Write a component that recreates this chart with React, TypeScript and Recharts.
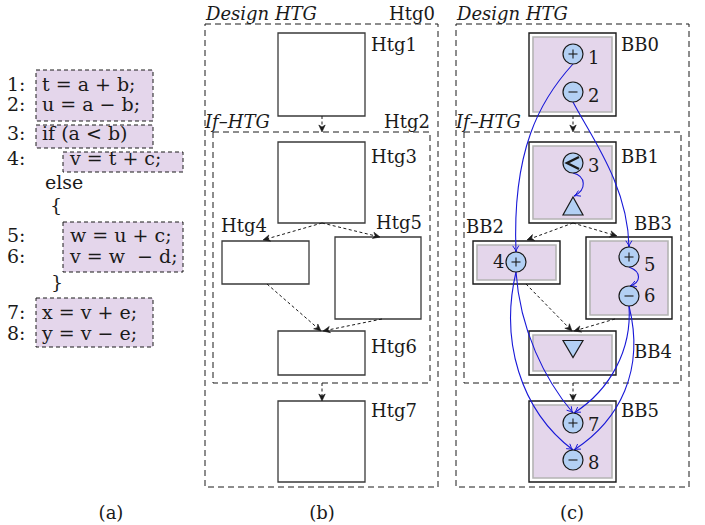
import { ScatterChart, Scatter, XAxis, YAxis, ReferenceArea, ReferenceLine } from 'recharts'

const W = 705
const H = 525
const FONT = "'DejaVu Serif', serif"
const PURPLE = '#e4d6eb'
const NODE = '#b3d0f4'
const BLUE = '#1818d8'
const INK = '#1a1a1a'

// (a) source listing
const lineNumbers = [
  { x: 7, y: 91, text: '1:' },
  { x: 7, y: 111, text: '2:' },
  { x: 7, y: 140, text: '3:' },
  { x: 7, y: 165, text: '4:' },
  { x: 7, y: 242, text: '5:' },
  { x: 7, y: 263, text: '6:' },
  { x: 7, y: 319, text: '7:' },
  { x: 7, y: 340, text: '8:' },
]
const codeText = [
  { x: 42, y: 91, text: 't = a + b;' },
  { x: 42, y: 111, text: 'u = a \u2212 b;' },
  { x: 42, y: 140, text: 'if (a < b)' },
  { x: 70, y: 165, text: 'v = t + c;' },
  { x: 45, y: 189, text: 'else' },
  { x: 50, y: 212, text: '{' },
  { x: 70, y: 242, text: 'w = u + c;' },
  { x: 70, y: 263, text: 'v = w  \u2212 d;' },
  { x: 51, y: 289, text: '}' },
  { x: 42, y: 319, text: 'x = v + e;' },
  { x: 42, y: 340, text: 'y = v \u2212 e;' },
]
const codeBoxes = [
  { x1: 36, x2: 153, y1: 70, y2: 121 },
  { x1: 36, x2: 153, y1: 125, y2: 148 },
  { x1: 63, x2: 183, y1: 152, y2: 172 },
  { x1: 63, x2: 183, y1: 222, y2: 272 },
  { x1: 36, x2: 153, y1: 298, y2: 347 },
]

// (b) and (c) hierarchy frames
const dashedFrames = [
  { x1: 205, x2: 438, y1: 24, y2: 487 },
  { x1: 213, x2: 430, y1: 132, y2: 383 },
  { x1: 456, x2: 689, y1: 24, y2: 487 },
  { x1: 464, x2: 681, y1: 132, y2: 383 },
]
const htgBoxes = [
  { x1: 278, x2: 365, y1: 33, y2: 116 },
  { x1: 278, x2: 365, y1: 142, y2: 223 },
  { x1: 222, x2: 309, y1: 241, y2: 284 },
  { x1: 335, x2: 421, y1: 237, y2: 319 },
  { x1: 278, x2: 365, y1: 331, y2: 375 },
  { x1: 278, x2: 365, y1: 401, y2: 482 },
]
const bbBoxes = [
  { x1: 529, x2: 616, y1: 33, y2: 116 },
  { x1: 529, x2: 616, y1: 142, y2: 223 },
  { x1: 473, x2: 560, y1: 241, y2: 284 },
  { x1: 586, x2: 672, y1: 237, y2: 319 },
  { x1: 529, x2: 616, y1: 331, y2: 375 },
  { x1: 529, x2: 616, y1: 401, y2: 482 },
]
const flowArrows = [
  { from: { x: 322, y: 116 }, to: { x: 322, y: 132 } },
  { from: { x: 322, y: 223 }, to: { x: 263, y: 240 } },
  { from: { x: 322, y: 223 }, to: { x: 380, y: 237 } },
  { from: { x: 267, y: 284 }, to: { x: 321, y: 331 } },
  { from: { x: 382, y: 319 }, to: { x: 323, y: 331 } },
  { from: { x: 322, y: 383 }, to: { x: 322, y: 401 } },
  { from: { x: 573, y: 116 }, to: { x: 573, y: 132 } },
  { from: { x: 573, y: 223 }, to: { x: 527, y: 240 } },
  { from: { x: 573, y: 223 }, to: { x: 617, y: 236 } },
  { from: { x: 526, y: 284 }, to: { x: 572, y: 331 } },
  { from: { x: 615, y: 319 }, to: { x: 574, y: 331 } },
  { from: { x: 573, y: 383 }, to: { x: 573, y: 401 } },
]

// operation nodes in (c)
const opNodes = [
  { x: 573, y: 54, op: 'plus' },
  { x: 573, y: 92, op: 'minus' },
  { x: 573, y: 163, op: 'less' },
  { x: 516, y: 262, op: 'plus' },
  { x: 629, y: 257, op: 'plus' },
  { x: 629, y: 296, op: 'minus' },
  { x: 573, y: 423, op: 'plus' },
  { x: 573, y: 460, op: 'minus' },
]
const branchMarks = [
  { x: 573, y: 206, dir: 'up' },
  { x: 573, y: 349, dir: 'down' },
]
// data dependence edges: start, two control points, end
const depEdges = [
  [{ x: 573, y: 64 }, { x: 540, y: 100 }, { x: 512, y: 150 }, { x: 516, y: 252 }],
  [{ x: 573, y: 102 }, { x: 590, y: 135 }, { x: 628, y: 185 }, { x: 629, y: 247 }],
  [{ x: 573, y: 173 }, { x: 586, y: 176 }, { x: 587, y: 190 }, { x: 574, y: 196 }],
  [{ x: 629, y: 267 }, { x: 642, y: 272 }, { x: 641, y: 282 }, { x: 630, y: 286 }],
  [{ x: 516, y: 272 }, { x: 520, y: 330 }, { x: 545, y: 380 }, { x: 573, y: 413 }],
  [{ x: 516, y: 272 }, { x: 500, y: 340 }, { x: 520, y: 410 }, { x: 573, y: 450 }],
  [{ x: 629, y: 306 }, { x: 632, y: 350 }, { x: 610, y: 390 }, { x: 574, y: 413 }],
  [{ x: 629, y: 306 }, { x: 645, y: 370 }, { x: 620, y: 420 }, { x: 574, y: 450 }],
]

const labels = [
  { x: 206, y: 20, text: 'Design HTG', italic: true },
  { x: 389, y: 20, text: 'Htg0' },
  { x: 371, y: 51, text: 'Htg1' },
  { x: 205, y: 128, text: 'If\u2013HTG', italic: true },
  { x: 384, y: 128, text: 'Htg2' },
  { x: 371, y: 163, text: 'Htg3' },
  { x: 221, y: 232, text: 'Htg4' },
  { x: 376, y: 229, text: 'Htg5' },
  { x: 371, y: 353, text: 'Htg6' },
  { x: 371, y: 417, text: 'Htg7' },
  { x: 457, y: 20, text: 'Design HTG', italic: true },
  { x: 621, y: 51, text: 'BB0' },
  { x: 456, y: 128, text: 'If\u2013HTG', italic: true },
  { x: 621, y: 163, text: 'BB1' },
  { x: 466, y: 233, text: 'BB2' },
  { x: 634, y: 230, text: 'BB3' },
  { x: 634, y: 358, text: 'BB4' },
  { x: 621, y: 417, text: 'BB5' },
  { x: 588, y: 64, text: '1' },
  { x: 588, y: 102, text: '2' },
  { x: 588, y: 172, text: '3' },
  { x: 493, y: 268, text: '4' },
  { x: 644, y: 271, text: '5' },
  { x: 644, y: 302, text: '6' },
  { x: 588, y: 431, text: '7' },
  { x: 588, y: 469, text: '8' },
]
const captions = [
  { x: 111, y: 519, text: '(a)' },
  { x: 322, y: 519, text: '(b)' },
  { x: 572, y: 519, text: '(c)' },
]

const makeLabel = (size: number) => (props: any) => {
  const { cx, cy, payload } = props
  return (
    <text
      x={cx}
      y={cy}
      fontFamily={FONT}
      fontSize={size}
      fill={INK}
      fontStyle={payload.italic ? 'italic' : 'normal'}
      textAnchor={payload.anchor || 'start'}
      style={{ whiteSpace: 'pre' }}
    >
      {payload.text}
    </text>
  )
}
const Label = makeLabel(18)
const CodeLabel = makeLabel(19)

const Nothing = () => <g />

const FlowArrow = (props: any) => {
  const { x1, y1, x2, y2 } = props
  const a = Math.atan2(y2 - y1, x2 - x1)
  const c = Math.cos(a)
  const s = Math.sin(a)
  const bx = x2 - 7 * c
  const by = y2 - 7 * s
  const nx = x2 - 5 * c
  const ny = y2 - 5 * s
  const head = `M${x2},${y2} L${bx + 3.2 * s},${by - 3.2 * c} L${nx},${ny} L${bx - 3.2 * s},${by + 3.2 * c} Z`
  return (
    <g>
      <line x1={x1} y1={y1} x2={nx} y2={ny} stroke={INK} strokeWidth={1} strokeDasharray="3 2.5" />
      <path d={head} fill={INK} stroke={INK} strokeWidth={0.6} />
    </g>
  )
}

const DepCurve = (props: any) => {
  const p = props.points
  if (!p || p.length < 4) return <g />
  const [a, b, c, d] = p
  const ang = Math.atan2(d.y - c.y, d.x - c.x)
  const l = 7
  const w1 = ang + Math.PI - 0.45
  const w2 = ang + Math.PI + 0.45
  const head = `M${d.x + l * Math.cos(w1)},${d.y + l * Math.sin(w1)} Q${d.x - 2 * Math.cos(ang)},${d.y - 2 * Math.sin(ang)} ${d.x},${d.y} Q${d.x - 2 * Math.cos(ang)},${d.y - 2 * Math.sin(ang)} ${d.x + l * Math.cos(w2)},${d.y + l * Math.sin(w2)}`
  return (
    <g>
      <path d={`M${a.x},${a.y} C${b.x},${b.y} ${c.x},${c.y} ${d.x},${d.y}`} fill="none" stroke={BLUE} strokeWidth={1.1} />
      <path d={head} fill="none" stroke={BLUE} strokeWidth={1} />
    </g>
  )
}

const OpNode = (props: any) => {
  const { cx, cy, payload } = props
  const r = 10
  return (
    <g>
      <circle cx={cx} cy={cy} r={r} fill={NODE} stroke={INK} strokeWidth={1.2} />
      {payload.op !== 'less' && (
        <line x1={cx - 4.5} y1={cy} x2={cx + 4.5} y2={cy} stroke={INK} strokeWidth={1.1} />
      )}
      {payload.op === 'plus' && (
        <line x1={cx} y1={cy - 4.5} x2={cx} y2={cy + 4.5} stroke={INK} strokeWidth={1.1} />
      )}
      {payload.op === 'less' && (
        <polyline
          points={`${cx + 6},${cy - 6} ${cx - 6},${cy} ${cx + 6},${cy + 6}`}
          fill="none"
          stroke={INK}
          strokeWidth={2.4}
        />
      )}
    </g>
  )
}

const BranchMark = (props: any) => {
  const { cx, cy, payload } = props
  const pts =
    payload.dir === 'up'
      ? `${cx},${cy - 9} ${cx - 10},${cy + 9} ${cx + 10},${cy + 9}`
      : `${cx - 10},${cy - 8.5} ${cx + 10},${cy - 8.5} ${cx},${cy + 8.5}`
  return <polygon points={pts} fill={NODE} stroke={INK} strokeWidth={1.2} />
}

const inset = 4

export default function App() {
  return (
    <div style={{ position: 'absolute', left: 0, top: 0, width: W, height: H, background: '#fff' }}>
      <ScatterChart width={W} height={H} margin={{ top: 0, right: 0, bottom: 0, left: 0 }}>
        <XAxis type="number" dataKey="x" domain={[0, W]} allowDataOverflow hide />
        <YAxis type="number" dataKey="y" domain={[0, H]} allowDataOverflow reversed hide />

        {codeBoxes.map((b, i) => (
          <ReferenceArea
            key={`code-${i}`}
            {...b}
            ifOverflow="visible"
            fill={PURPLE}
            fillOpacity={1}
            stroke={INK}
            strokeWidth={1}
            strokeDasharray="4 3"
          />
        ))}
        {dashedFrames.map((b, i) => (
          <ReferenceArea
            key={`frame-${i}`}
            {...b}
            ifOverflow="visible"
            fill="none"
            fillOpacity={0}
            stroke={INK}
            strokeWidth={1}
            strokeDasharray="6 4"
          />
        ))}
        {htgBoxes.map((b, i) => (
          <ReferenceArea
            key={`htg-${i}`}
            {...b}
            ifOverflow="visible"
            fill="#fff"
            fillOpacity={1}
            stroke="#3a3a3a"
            strokeWidth={1.3}
          />
        ))}
        {bbBoxes.map((b, i) => (
          <ReferenceArea
            key={`bb-${i}`}
            {...b}
            ifOverflow="visible"
            fill="#fff"
            fillOpacity={1}
            stroke={INK}
            strokeWidth={1.4}
          />
        ))}
        {bbBoxes.map((b, i) => (
          <ReferenceArea
            key={`bbin-${i}`}
            x1={b.x1 + inset}
            x2={b.x2 - inset}
            y1={b.y1 + inset}
            y2={b.y2 - inset}
            ifOverflow="visible"
            fill={PURPLE}
            fillOpacity={1}
            stroke="#b4b4b4"
            strokeWidth={1.6}
          />
        ))}
        {flowArrows.map((a, i) => (
          <ReferenceLine
            key={`flow-${i}`}
            segment={[a.from, a.to]}
            ifOverflow="visible"
            shape={FlowArrow}
          />
        ))}

        {depEdges.map((e, i) => (
          <Scatter
            key={`dep-${i}`}
            data={e}
            shape={Nothing}
            line={DepCurve}
            isAnimationActive={false}
          />
        ))}
        <Scatter data={opNodes} shape={OpNode} isAnimationActive={false} />
        <Scatter data={branchMarks} shape={BranchMark} isAnimationActive={false} />
        <Scatter data={lineNumbers} shape={CodeLabel} isAnimationActive={false} />
        <Scatter data={codeText} shape={CodeLabel} isAnimationActive={false} />
        <Scatter data={labels} shape={Label} isAnimationActive={false} />
        <Scatter
          data={captions.map((c) => ({ ...c, anchor: 'middle' }))}
          shape={Label}
          isAnimationActive={false}
        />
      </ScatterChart>
    </div>
  )
}
